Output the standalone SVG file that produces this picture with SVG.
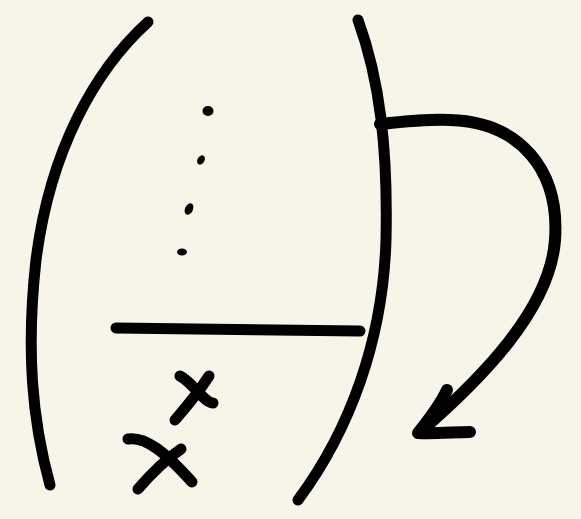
<svg xmlns="http://www.w3.org/2000/svg" width="581" height="519" viewBox="0 0 581 519">
<style>
.s{fill:none;stroke:#000;stroke-width:11;stroke-linecap:round;stroke-linejoin:round}
.a{stroke-width:12}
.d{fill:#000}
</style>
<rect width="581" height="519" fill="#f7f5e9"/>
<g id="left-bracket"><path class="s" d="M148,22 C95,70 50,150 36,260 C26,350 32,420 50,485"/></g>
<g id="right-bracket"><path class="s" d="M358,20 C380,80 388,150 386,240 C383,340 350,430 298,500"/></g>
<g id="bar"><path class="s" d="M116,328 L360,331"/></g>
<g id="dots">
<ellipse class="d" cx="208" cy="111" rx="5.5" ry="5"/>
<ellipse class="d" cx="201" cy="160" rx="3.5" ry="5" transform="rotate(30 201 160)"/>
<ellipse class="d" cx="189" cy="209" rx="4" ry="6" transform="rotate(25 189 209)"/>
<ellipse class="d" cx="182" cy="252" rx="5" ry="3.5"/>
</g>
<g id="x-small">
<path class="s" d="M180,376 C188,380 196,390 202,396 C206,400 210,403 213,403"/>
<path class="s" d="M209,376 C200,390 188,405 175,420"/>
</g>
<g id="x-big">
<path class="s" d="M128,439 C145,436 165,452 192,482"/>
<path class="s" d="M181,449 C165,460 150,475 138,489"/>
</g>
<g id="connectors">
<path class="s a" d="M380,124 C410,121 430,119 450,120 C520,122 560,170 555,240 C550,310 480,380 420,432"/>
<path class="s a" d="M447,390 C440,405 430,418 418,433 C435,434 455,432 470,432"/>
<path class="d" d="M418,425 L440,405 L432,432 Z"/>
</g>
</svg>
